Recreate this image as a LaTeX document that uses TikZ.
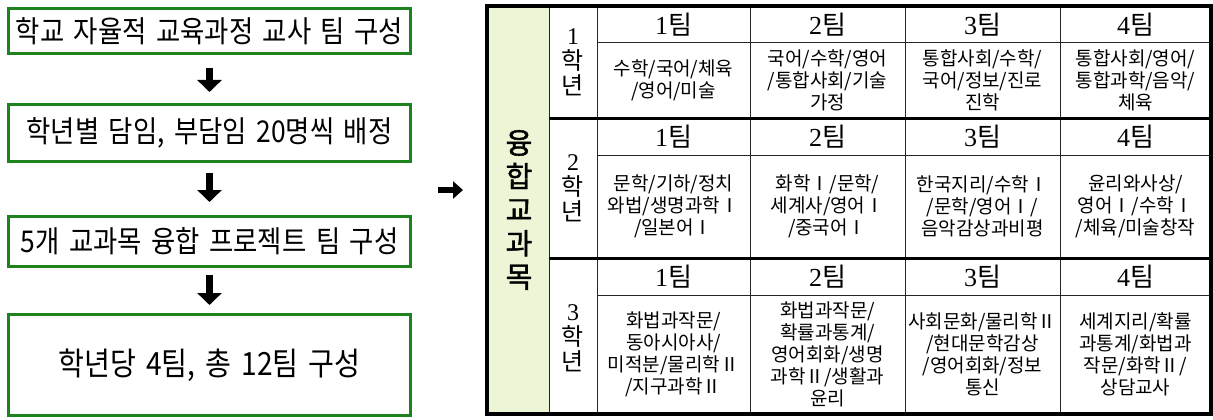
\documentclass[tikz,border=0pt]{standalone}
\usepackage{fontspec}
\usetikzlibrary{arrows.meta}
\setmainfont{Liberation Serif}
\newfontfamily\krsans[FakeStretch=0.88,WordSpace=1.6]{Noto Sans CJK KR}
\newfontfamily\kr{Noto Sans CJK KR}
\newfontfamily\krbold[FakeBold=1.5]{Noto Sans CJK KR}
\definecolor{boxgreen}{RGB}{30,130,30}
\definecolor{colgreen}{RGB}{236,246,214}
\begin{document}
\begin{tikzpicture}[x=1pt,y=-1pt,
  flowbox/.style={draw=boxgreen,line width=3pt,minimum width=402pt,inner sep=0pt,
    font=\krsans\fontsize{30}{32}\selectfont},
  down/.style={line width=7pt,-{Triangle[width=24pt,length=12pt]}},
  right/.style={line width=6pt,-{Triangle[width=17pt,length=10pt]}},
  thinline/.style={line width=1pt,black!85},
  thickline/.style={line width=3pt,black},
  hdr/.style={font=\fontsize{26}{26}\selectfont,inner sep=0pt},
  cell/.style={font=\kr\fontsize{19}{22}\selectfont,align=center,inner sep=0pt},
  grade/.style={font=\fontsize{24}{25}\selectfont,align=center,inner sep=0pt},
  subj/.style={font=\krbold\fontsize{29}{33.5}\selectfont,align=center,inner sep=0pt}]
\useasboundingbox (0,0) rectangle (1213,420);
% left flow
\node[flowbox,minimum height=45pt] (b1) at (209.5,31) {학교 자율적 교육과정 교사 팀 구성};
\node[flowbox,minimum height=57pt] (b2) at (209.5,133) {학년별 담임, 부담임 20명씩 배정};
\node[flowbox,minimum height=50pt] (b3) at (209.5,241.5) {5개 교과목 융합 프로젝트 팀 구성};
\node[flowbox,minimum height=101pt,font=\krsans\fontsize{32}{34}\selectfont] (b4) at (209.5,365) {학년당 4팀, 총 12팀 구성};
\draw[down,shorten <=13pt,shorten >=11pt] (b1) -- (b2);
\draw[down,shorten <=10pt,shorten >=13pt] (b2) -- (b3);
\draw[down,shorten <=7pt,shorten >=8pt] (b3) -- (b4);
\coordinate (ra1) at (438,190);
\coordinate (ra2) at (463,190);
\draw[right] (ra1) -- (ra2);
% table
\fill[colgreen] (487,6) rectangle (549,414);
\foreach \x in {549,597,750,905,1060} \draw[thinline] (\x,6) -- (\x,414);
\foreach \y in {43,155,295} \draw[thinline] (597,\y) -- (1211,\y);
\foreach \y in {118,258} \draw[thickline] (549,\y) -- (1211,\y);
\draw[line width=3.5pt] (487,6) rectangle (1211,414);
\node[subj] (subj) at (519,210) {융\\합\\교\\과\\목};
\node[grade] (g1) at (573,62) {1\\{\kr 학}\\{\kr 년}};
\node[grade] (g2) at (573,188) {2\\{\kr 학}\\{\kr 년}};
\node[grade] (g3) at (573,338) {3\\{\kr 학}\\{\kr 년}};
% headers
\foreach \r/\y in {1/24.5,2/136.5,3/276.5}{
  \node[hdr] (h\r1) at (673.5,\y) {1{\kr 팀}};
  \node[hdr] (h\r2) at (827.5,\y) {2{\kr 팀}};
  \node[hdr] (h\r3) at (982.5,\y) {3{\kr 팀}};
  \node[hdr] (h\r4) at (1135.5,\y) {4{\kr 팀}};
}
% grade 1
\node[cell] (c11) at (673.5,80.5) {수학/국어/체육\\/영어/미술};
\node[cell] (c12) at (827.5,80.5) {국어/수학/영어\\/통합사회/기술\\가정};
\node[cell] (c13) at (982.5,80.5) {통합사회/수학/\\국어/정보/진로\\진학};
\node[cell] (c14) at (1135.5,80.5) {통합사회/영어/\\통합과학/음악/\\체육};
% grade 2
\node[cell] (c21) at (673.5,206.5) {문학/기하/정치\\와법/생명과학Ⅰ\\/일본어Ⅰ};
\node[cell] (c22) at (827.5,206.5) {화학Ⅰ/문학/\\세계사/영어Ⅰ\\/중국어Ⅰ};
\node[cell] (c23) at (982.5,206.5) {한국지리/수학Ⅰ\\/문학/영어Ⅰ/\\음악감상과비평};
\node[cell] (c24) at (1135.5,206.5) {윤리와사상/\\영어Ⅰ/수학Ⅰ\\/체육/미술창작};
% grade 3
\node[cell] (c31) at (673.5,354.5) {화법과작문/\\동아시아사/\\미적분/물리학Ⅱ\\/지구과학Ⅱ};
\node[cell] (c32) at (827.5,354.5) {화법과작문/\\확률과통계/\\영어회화/생명\\과학Ⅱ/생활과\\윤리};
\node[cell] (c33) at (982.5,354.5) {사회문화/물리학Ⅱ\\/현대문학감상\\/영어회화/정보\\통신};
\node[cell] (c34) at (1135.5,354.5) {세계지리/확률\\과통계/화법과\\작문/화학Ⅱ/\\상담교사};
\end{tikzpicture}
\end{document}
